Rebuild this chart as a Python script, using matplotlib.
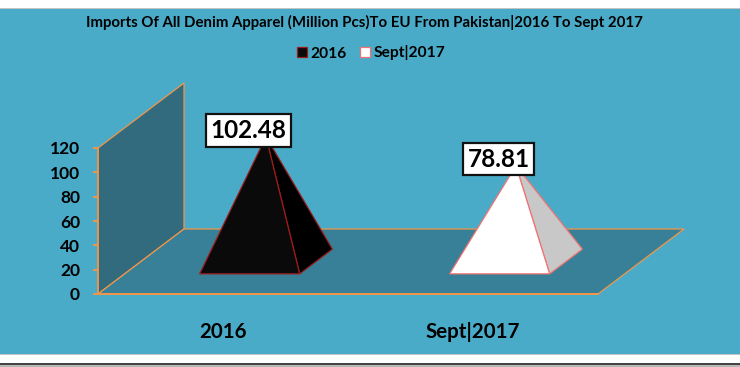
import matplotlib
matplotlib.use("Agg")
import matplotlib.pyplot as plt
from matplotlib.patches import Patch, Polygon, Rectangle

categories = ["2016", "Sept|2017"]
values = [102.48, 78.81]
value_labels = ["102.48", "78.81"]
y_ticks = [0, 20, 40, 60, 80, 100, 120]
title = "Imports Of All Denim Apparel (Million Pcs)To EU From Pakistan|2016 To Sept 2017"

# colours per series: front face, side face, outline
front_colors = ["#0a0a0a", "#ffffff"]
side_colors = ["#000000", "#c8c8c8"]
edge_colors = ["#9c1c1c", "#f07474"]

blue = "#4aabc8"
wall = "#316b7d"
floor = "#388097"
orange = "#f0964a"

plt.rcParams["font.family"] = ["Lato", "DejaVu Sans"]
plt.rcParams["font.weight"] = "bold"

W, H = 740, 367
fig = plt.figure(figsize=(7.4, 3.67), dpi=100, facecolor="white")

# chart panel with the screenshot borders above and below it
for y0, h, c in [(H - 9, 1, "#c4c4c4"), (H - 354, 345, blue), (H - 355, 1, "#c4c4c4"),
                 (H - 365, 2, "#444444"), (0, 2, "#b8b8b8")]:
    fig.add_artist(Rectangle((0, y0 / H), 1, h / H, transform=fig.transFigure, color=c, lw=0, zorder=-1))

ax = fig.add_axes([98 / W, (H - 294) / H, 500 / W, 146 / H])
ax.set_xlim(-0.5, 1.5)
ax.set_ylim(0, 120)
ax.patch.set_alpha(0)

# oblique projection of the depth axis
dx = 86 / 250
dv = 65 / 146 * 120


def proj(x, depth, v):
    return (x + depth * dx, v + depth * dv)


def face(points, color, edge, lw=0.9, z=2):
    ax.add_patch(Polygon(points, closed=True, facecolor=color, edgecolor=edge,
                         linewidth=lw, clip_on=False, zorder=z))


face([proj(-0.5, 0, 0), proj(-0.5, 0, 120), proj(-0.5, 1, 120), proj(-0.5, 1, 0)], wall, orange)
face([proj(-0.5, 0, 0), proj(1.5, 0, 0), proj(1.5, 1, 0), proj(-0.5, 1, 0)], floor, orange)

half = 0.2
d0, d1 = 0.31, 0.69
for i, v in enumerate(values):
    apex = proj(i, 0.5, v)
    face([proj(i + half, d0, 0), proj(i + half, d1, 0), apex], side_colors[i], edge_colors[i], z=3)
    face([proj(i - half, d0, 0), proj(i + half, d0, 0), apex], front_colors[i], edge_colors[i], z=4)
    ax.annotate(value_labels[i], apex, xytext=(-12.6, 4.7), textcoords="offset points",
                ha="center", va="center", fontsize=17.5, color="black", zorder=6,
                annotation_clip=False,
                bbox=dict(boxstyle="square,pad=0.2", facecolor="white", edgecolor="#111111", linewidth=1.6))

for s in ["top", "right", "bottom"]:
    ax.spines[s].set_visible(False)
ax.spines["left"].set_color(orange)
ax.spines["left"].set_linewidth(1.2)
ax.spines["left"].set_zorder(3)
ax.plot([-0.5, 1.5], [0, 0], color=orange, lw=1.4, clip_on=False, zorder=3)

ax.set_yticks(y_ticks)
ax.set_xticks(range(len(categories)))
ax.set_xticklabels(categories)
ax.tick_params(axis="y", length=3.6, width=1.4, color=orange, labelsize=12.5, pad=9.4, labelcolor="black")
ax.tick_params(axis="x", length=0, labelsize=14.8, pad=20, labelcolor="black")

fig.text(364.5 / W, 1 - 22 / H, title, ha="center", va="center", fontsize=10.8, color="black")

handles = [Patch(facecolor=front_colors[i], edgecolor=edge_colors[i], linewidth=0.9, label=categories[i])
           for i in range(len(categories))]
fig.legend(handles=handles, ncol=2, frameon=False, loc="center", bbox_to_anchor=(371 / W, 1 - 53 / H),
           fontsize=11.2, handlelength=0.65, handleheight=0.65, handletextpad=0.2, columnspacing=0.85)

fig.savefig("out.png", dpi=100, facecolor="white")
